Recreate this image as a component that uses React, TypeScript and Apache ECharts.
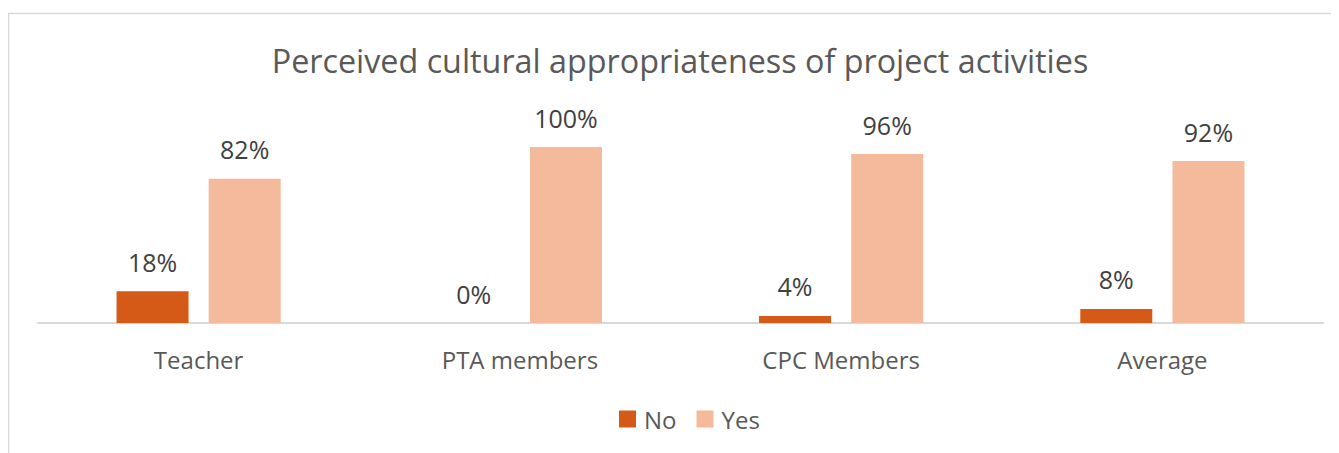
import React, { useEffect, useRef } from "react";
import * as echarts from "echarts";

const categories = ["Teacher", "PTA members", "CPC Members", "Average"];
const noValues = [18, 0, 4, 8];
const yesValues = [82, 100, 96, 92];
const titleText = "Perceived cultural appropriateness of project activities";

export default function App() {
  const ref = useRef<HTMLDivElement>(null);
  useEffect(() => {
    const chart = echarts.init(ref.current!, undefined, { renderer: "svg" });
    const font = "'Open Sans', Carlito, Calibri, sans-serif";
    const label = {
      show: true,
      position: "top",
      distance: 17,
      fontSize: 25,
      color: "#404040",
      fontFamily: font,
      formatter: (p: any) => p.value + "%",
    };
    chart.setOption({
      animation: false,
      graphic: [
        {
          type: "rect",
          shape: { x: 0.5, y: 5.5, width: 1400, height: 500 },
          style: { fill: "none", stroke: "#d9d9d9", lineWidth: 1.5 },
          silent: true,
        },
        {
          type: "text",
          x: 672,
          y: 52,
          style: {
            text: titleText,
            fontSize: 32.3,
            fontFamily: font,
            fill: "#595959",
            textAlign: "center",
            textVerticalAlign: "middle",
          },
        },
      ],
      legend: {
        bottom: 17,
        left: 606,
        itemWidth: 17,
        itemHeight: 17,
        itemGap: 20,
        icon: "rect",
        textStyle: { fontSize: 24, color: "#595959", fontFamily: font, padding: [0, 0, 0, 3] },
        data: ["No", "Yes"],
      },
      grid: { left: 30, right: 16, top: 139, height: 176 },
      xAxis: {
        type: "category",
        data: categories,
        axisLine: { lineStyle: { color: "#d9d9d9", width: 2 } },
        axisTick: { show: false },
        axisLabel: { fontSize: 24, color: "#595959", fontFamily: font, margin: 24 },
      },
      yAxis: { type: "value", min: 0, max: 100, show: false, splitLine: { show: false } },
      series: [
        {
          name: "No",
          type: "bar",
          data: noValues,
          barWidth: 72,
          barGap: "28%",
          itemStyle: { color: "#D65A17" },
          label,
        },
        {
          name: "Yes",
          type: "bar",
          data: yesValues,
          barWidth: 72,
          itemStyle: { color: "#F5B99B" },
          label,
        },
      ],
    });
    return () => chart.dispose();
  }, []);
  return <div ref={ref} style={{ width: 1331, height: 445 }} />;
}
